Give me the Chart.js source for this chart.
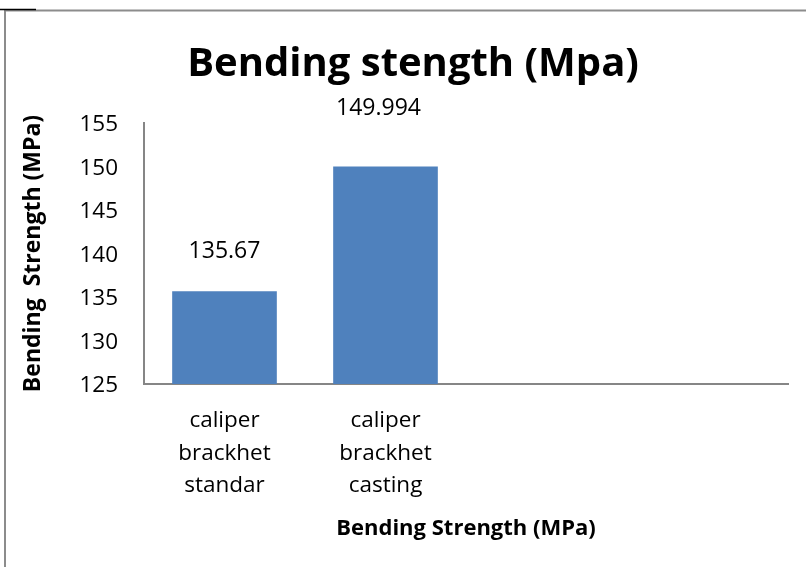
<!DOCTYPE html>
<html><head><meta charset="utf-8">
<script src="https://cdn.jsdelivr.net/npm/chart.js@4.4.1/dist/chart.umd.min.js"></script>
<style>html,body{margin:0;padding:0;background:#fff;overflow:hidden}
canvas{display:block}</style></head>
<body><canvas id="c" width="806" height="567"></canvas>
<script>
// ---- data ----
const categories = [['caliper', 'brackhet', 'standar'], ['caliper', 'brackhet', 'casting'], '', ''];
const values = [135.67, 149.994, null, null];
const valueLabels = ['135.67', '149.994', '', ''];
const yTicks = [125, 130, 135, 140, 145, 150, 155];
const chartTitle = 'Bending stength (Mpa)';
const xTitle = 'Bending Strength (MPa)';
const yTitle = 'Bending  Strength (MPa)';

// ---- style ----
const FONT = "'Open Sans', 'Liberation Sans', sans-serif";
const AXIS = '#868686';
const BAR = '#4F81BD';

const framePlugin = {
  id: 'frame',
  beforeDraw(chart) {
    const ctx = chart.ctx;
    ctx.save();
    ctx.fillStyle = '#fff';
    ctx.fillRect(0, 0, chart.width, chart.height);
    ctx.strokeStyle = '#8c8c8c';
    ctx.lineWidth = 2;
    ctx.beginPath();
    ctx.moveTo(5, 567); ctx.lineTo(5, 10.5); ctx.lineTo(806, 10.5);
    ctx.stroke();
    ctx.strokeStyle = '#000';
    ctx.lineWidth = 1.5;
    ctx.beginPath();
    ctx.moveTo(0, 9.5); ctx.lineTo(36, 9.5);
    ctx.stroke();
    ctx.restore();
  }
};

const valueLabelPlugin = {
  id: 'valueLabels',
  afterDatasetsDraw(chart, args, opts) {
    const ctx = chart.ctx;
    const meta = chart.getDatasetMeta(0);
    ctx.save();
    ctx.font = opts.size + 'px ' + FONT;
    ctx.fillStyle = '#000';
    ctx.textAlign = 'center';
    ctx.textBaseline = 'middle';
    meta.data.forEach((bar, i) => {
      if (values[i] == null) return;
      ctx.fillText(valueLabels[i], bar.x + opts.shift[i], bar.y - opts.lift[i]);
    });
    ctx.restore();
  }
};

new Chart(document.getElementById('c'), {
  type: 'bar',
  data: {
    labels: categories,
    datasets: [{
      data: values,
      backgroundColor: BAR,
      categoryPercentage: 0.65,
      barPercentage: 1.0
    }]
  },
  plugins: [framePlugin, valueLabelPlugin],
  options: {
    responsive: false,
    animation: false,
    devicePixelRatio: 1,
    layout: { padding: { left: 20, right: 0, top: 0, bottom: 0 } },
    plugins: {
      legend: { display: false },
      tooltip: { enabled: false },
      title: {
        display: true,
        text: chartTitle,
        color: '#000',
        font: { family: FONT, size: 40, weight: 'bold' },
        padding: { top: 41, bottom: 34 }
      },
      valueLabels: { size: 23, lift: [40, 58, 0, 0], shift: [0, -7, 0, 0] }
    },
    scales: {
      x: {
        grid: { display: false, drawTicks: false },
        border: { display: true, color: AXIS, width: 2 },
        ticks: {
          color: '#000',
          font: { family: FONT, size: 22.5, lineHeight: 1.43 },
          padding: 21,
          maxRotation: 0,
          autoSkip: false
        },
        title: {
          display: true,
          text: xTitle,
          color: '#000',
          font: { family: FONT, size: 22, weight: 'bold' },
          padding: { top: 0, bottom: 25 }
        },
        afterFit(scale) { scale.height = 183; }
      },
      y: {
        min: yTicks[0],
        max: yTicks[yTicks.length - 1],
        grid: { display: false, drawTicks: false },
        border: { display: true, color: AXIS, width: 2 },
        ticks: {
          stepSize: yTicks[1] - yTicks[0],
          color: '#000',
          font: { family: FONT, size: 22.5 },
          padding: 26,
          labelOffset: 2
        },
        title: {
          display: true,
          text: yTitle,
          color: '#000',
          font: { family: FONT, size: 23, weight: 'bold' },
          padding: { top: 0, bottom: 0 }
        },
        afterFit(scale) { scale.width = 124; }
      },
      rightGap: {
        type: 'linear',
        position: 'right',
        display: true,
        grid: { display: false, drawTicks: false },
        border: { display: false },
        ticks: { display: false },
        afterFit(scale) { scale.width = 18; }
      }
    }
  }
});
</script></body></html>
